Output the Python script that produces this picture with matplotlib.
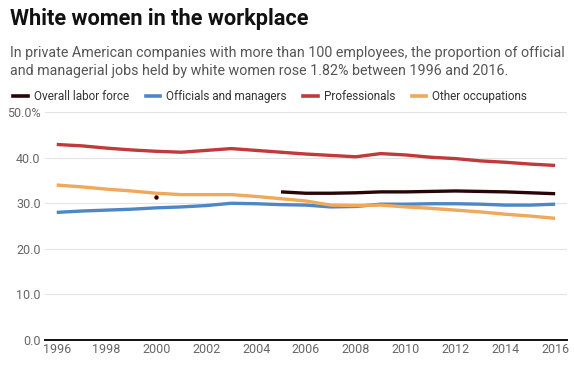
import numpy as np
import matplotlib.pyplot as plt

plt.rcParams['font.family'] = ['Roboto', 'DejaVu Sans']

years = list(range(1996, 2017))

# overall labor force only has 2000 and 2005 onward
overall = [np.nan, np.nan, np.nan, np.nan, 31.4, np.nan, np.nan, np.nan, np.nan,
           32.5, 32.2, 32.2, 32.3, 32.5, 32.5, 32.6, 32.7, 32.6, 32.5, 32.3, 32.1]
officials = [28.0, 28.3, 28.5, 28.7, 29.0, 29.2, 29.5, 30.0, 29.9, 29.7, 29.6,
             29.2, 29.3, 29.8, 29.8, 29.9, 29.9, 29.8, 29.6, 29.6, 29.8]
professionals = [42.9, 42.6, 42.1, 41.7, 41.4, 41.2, 41.6, 42.0, 41.6, 41.2, 40.8,
                 40.5, 40.2, 40.9, 40.6, 40.1, 39.8, 39.3, 39.0, 38.6, 38.3]
other = [34.0, 33.6, 33.1, 32.7, 32.2, 31.9, 31.9, 31.9, 31.5, 31.0, 30.5,
         29.6, 29.5, 29.6, 29.2, 28.9, 28.5, 28.1, 27.6, 27.2, 26.7]

labels = ['Overall labor force', 'Officials and managers', 'Professionals', 'Other occupations']
colors = ['#2a0505', '#4f86c6', '#c0393b', '#f0a85a']

fig = plt.figure(figsize=(5.74, 3.70), dpi=100)
ax = fig.add_axes([0.078, 0.081, 0.91, 0.616])

series = [overall, officials, professionals, other]
# draw order: orange and blue under, black on top
for idx in [3, 1, 2, 0]:
    ax.plot(years, series[idx], color=colors[idx], lw=2.4, label=labels[idx],
            solid_capstyle='butt', zorder=3 + idx)
# isolated 2000 point of overall labor force
ax.plot(years[4], overall[4], 'o', color=colors[0], ms=2.2, zorder=8)

ax.set_xlim(1995.52, 2016.48)
ax.set_ylim(0, 50)
ax.set_xticks(range(1996, 2017, 2))
ax.set_yticks([0, 10, 20, 30, 40, 50])
ax.set_yticklabels(['0.0', '10.0', '20.0', '30.0', '40.0', '50.0%'])
ax.tick_params(axis='both', length=0, labelsize=9, colors='#666666')
ax.tick_params(axis='y', pad=3)
ax.tick_params(axis='x', pad=2)
ax.grid(axis='y', color='#e4e4e4', lw=0.8)
ax.set_axisbelow(True)
for s in ['top', 'right', 'left']:
    ax.spines[s].set_visible(False)
ax.spines['bottom'].set_color('#111111')
ax.spines['bottom'].set_linewidth(1.4)

fig.text(0.017, 0.978, 'White women in the workplace', fontsize=15.7, fontweight='bold',
         color='#111111', va='top')
fig.text(0.017, 0.875, 'In private American companies with more than 100 employees, the proportion of official\n'
         'and managerial jobs held by white women rose 1.82% between 1996 and 2016.',
         fontsize=10.3, color='#555555', va='top', linespacing=1.3)

handles = [plt.Line2D([], [], color=c, lw=2.6) for c in colors]
fig.legend(handles, labels, loc='upper left', bbox_to_anchor=(0.005, 0.785), ncol=4,
           frameon=False, fontsize=8.5, handlelength=1.2, handletextpad=0.5,
           columnspacing=1.45, labelcolor='#333333')

fig.savefig('out.png', dpi=100)
